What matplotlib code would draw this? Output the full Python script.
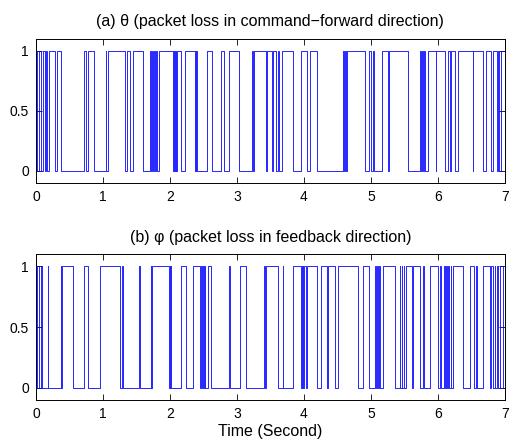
import matplotlib
matplotlib.use("Agg")
import numpy as np
import matplotlib.pyplot as plt

plt.rcParams['font.family'] = ['Liberation Sans', 'DejaVu Sans']

# high (=1) intervals of each packet-loss signal, in seconds
theta_on = [
    [0.00, 0.02], [0.05, 0.08], [0.10, 0.13], [0.15, 0.17], [0.20, 0.28], [0.32, 0.38],
    [0.71, 0.74], [0.77, 0.86],
    [1.04, 1.05], [1.08, 1.33], [1.36, 1.40], [1.45, 1.60],
    [1.70, 1.71], [1.73, 1.74], [1.76, 1.77], [1.79, 1.80], [1.83, 2.05],
    [2.06, 2.065], [2.075, 2.08], [2.09, 2.095], [2.105, 2.17], [2.22, 2.37],
    [2.38, 2.385], [2.39, 2.40],
    [2.55, 2.63], [2.77, 2.81], [2.88, 3.03],
    [3.23, 3.245], [3.26, 3.43], [3.45, 3.52], [3.54, 3.59], [3.62, 3.63], [3.67, 3.84],
    [3.95, 4.04], [4.09, 4.19],
    [4.59, 4.60], [4.62, 4.63], [4.645, 4.91], [4.98, 5.00], [5.03, 5.04],
    [5.16, 5.26], [5.27, 5.56],
    [5.73, 5.75], [5.77, 5.78], [5.80, 5.81], [5.86, 5.97], [5.98, 6.10],
    [6.15, 6.18], [6.20, 6.25], [6.30, 6.52], [6.53, 6.68], [6.72, 6.80],
    [6.83, 6.88], [6.90, 6.92], [6.95, 7.00],
]

phi_on = [
    [0.01, 0.05], [0.07, 0.09], [0.175, 0.185], [0.37, 0.38], [0.39, 0.56], [0.71, 0.77],
    [0.95, 1.25], [1.29, 1.30], [1.545, 1.555], [1.71, 1.72], [1.73, 1.99],
    [2.00, 2.005], [2.01, 2.015], [2.16, 2.24],
    [2.35, 2.45], [2.46, 2.465], [2.47, 2.475], [2.48, 2.485], [2.49, 2.495],
    [2.50, 2.505], [2.51, 2.515], [2.52, 2.53], [2.57, 2.62], [2.885, 2.895],
    [3.04, 3.14], [3.40, 3.42], [3.43, 3.62], [3.685, 3.695], [3.84, 3.96],
    [3.97, 3.975], [3.985, 3.99], [4.00, 4.03], [4.04, 4.19], [4.26, 4.34],
    [4.36, 4.46], [4.51, 4.81], [4.88, 4.98],
    [5.06, 5.07], [5.09, 5.10], [5.12, 5.13], [5.18, 5.36], [5.43, 5.44],
    [5.46, 5.47], [5.49, 5.50], [5.53, 5.61], [5.63, 5.74], [5.78, 5.79],
    [5.88, 6.01], [6.04, 6.05], [6.09, 6.10], [6.12, 6.13], [6.15, 6.16],
    [6.19, 6.20], [6.23, 6.38], [6.48, 6.54], [6.57, 6.58], [6.68, 6.78],
    [6.80, 6.82], [6.85, 6.86], [6.88, 6.90], [6.93, 6.98],
]

titles = ['(a) \u03b8 (packet loss in command\u2212forward direction)',
          '(b) \u03c6 (packet loss in feedback direction)']
t_end = 7.0


def to_steps(intervals):
    t, y = [0.0], [0.0]
    for a, b in intervals:
        t += [a, b]
        y += [1.0, 0.0]
    t.append(t_end)
    y.append(y[-1])
    return np.array(t), np.array(y)


fig = plt.figure(figsize=(5.09, 4.43), dpi=100)
ax1 = fig.add_axes([0.0707, 0.587, 0.921, 0.325])
ax2 = fig.add_axes([0.0707, 0.097, 0.921, 0.3296])

for ax, on, title in zip([ax1, ax2], [theta_on, phi_on], titles):
    t, y = to_steps(on)
    ax.plot(t, y, drawstyle='steps-post', color='#0000ff', lw=0.7, alpha=0.85)
    ax.set_xlim(0, 7)
    ax.set_ylim(-0.1, 1.1)
    ax.set_xticks(range(8))
    ax.set_yticks([0, 0.5, 1])
    ax.set_yticklabels(['0', '0.5', '1'])
    ax.tick_params(direction='in', top=True, right=True, length=4, width=0.6,
                   labelsize=10, pad=5)
    for s in ax.spines.values():
        s.set_linewidth(0.7)
    ax.set_title(title, fontsize=11.5, pad=9)

ax2.set_xlabel('Time (Second)', fontsize=11.5, labelpad=2)

fig.savefig('out.png', dpi=100)
